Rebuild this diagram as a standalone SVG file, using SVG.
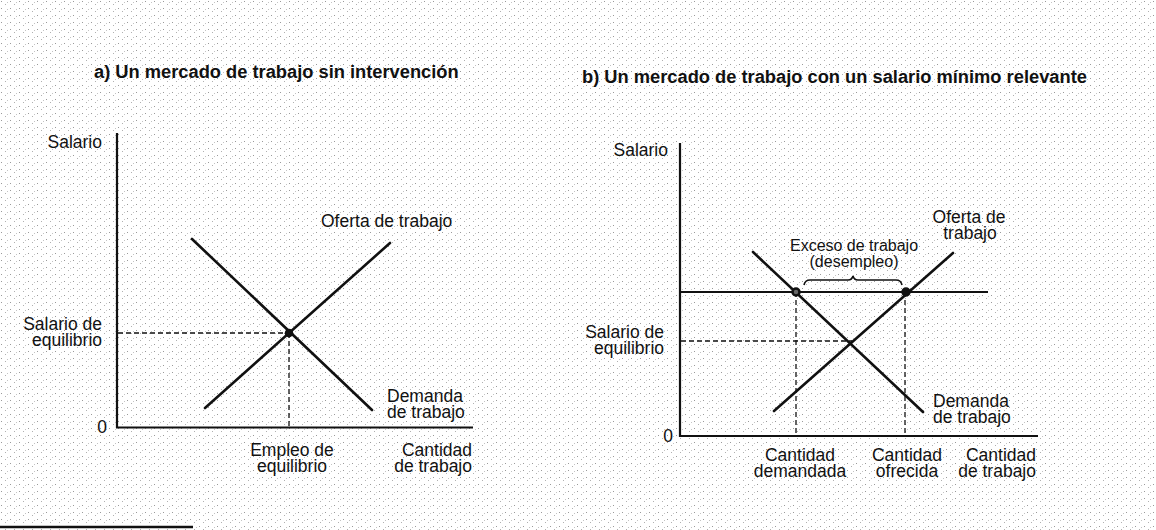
<svg xmlns="http://www.w3.org/2000/svg" width="1156" height="530" viewBox="0 0 1156 530">
  <defs>
    <pattern id="speckle" width="9" height="7" patternUnits="userSpaceOnUse">
      <rect x="1" y="1" width="1" height="1" fill="#9a9a9a"/>
      <rect x="5" y="4" width="1" height="1" fill="#b0b0b0"/>
      <rect x="7" y="2" width="1" height="1" fill="#c4c4c4"/>
    </pattern>
  </defs>
  <style>
    .title { font-family: "Liberation Sans", Arial, sans-serif; font-size: 18.3px; font-weight: bold; fill: #111; }
    .lbl { font-family: "Liberation Sans", Arial, sans-serif; font-size: 17.5px; fill: #111; }
    .small { font-family: "Liberation Sans", Arial, sans-serif; font-size: 16px; fill: #111; }
    .axis { stroke: #111; stroke-width: 2.2; fill: none; }
    .curve { stroke: #111; stroke-width: 2.6; fill: none; stroke-linecap: round; }
    .dash { stroke: #111; stroke-width: 1.3; fill: none; stroke-dasharray: 5 3; }
    .pt { fill: #111; stroke: #111; stroke-width: 1.5; }
    .ring { fill: #666; stroke: #111; stroke-width: 2.5; }
  </style>
  <rect width="1156" height="530" fill="#ffffff"/>
  <rect width="1156" height="530" fill="url(#speckle)"/>
  <line x1="0" y1="527" x2="193" y2="527" stroke="#111" stroke-width="2.5"/>

  <!-- Panel a -->
  <g id="panel-a">
    <text class="title" x="94" y="78">a) Un mercado de trabajo sin intervención</text>
    <g id="a-axes">
      <line class="axis" x1="117" y1="133" x2="117" y2="428"/>
      <line class="axis" x1="116" y1="427.5" x2="473" y2="427.5"/>
      <text class="lbl" x="102" y="148" text-anchor="end">Salario</text>
      <text class="lbl" x="102" y="433" text-anchor="middle">0</text>
      <text class="lbl" text-anchor="end"><tspan x="472" y="456">Cantidad</tspan><tspan x="472" y="472">de trabajo</tspan></text>
    </g>
    <g id="a-connectors">
      <line class="dash" x1="118" y1="333" x2="289" y2="333"/>
      <line class="dash" x1="289" y1="333" x2="289" y2="427"/>
      <line class="curve" x1="205" y1="408" x2="390" y2="243"/>
      <line class="curve" x1="192" y1="239" x2="372" y2="410"/>
    </g>
    <g id="a-supply-label">
      <text class="lbl" x="321" y="227">Oferta de trabajo</text>
    </g>
    <g id="a-demand-label">
      <text class="lbl"><tspan x="387" y="402">Demanda</tspan><tspan x="387" y="418">de trabajo</tspan></text>
    </g>
    <g id="a-eq-wage">
      <text class="lbl" text-anchor="end"><tspan x="102" y="330">Salario de</tspan><tspan x="102" y="346">equilibrio</tspan></text>
    </g>
    <g id="a-eq-employment">
      <text class="lbl" text-anchor="middle"><tspan x="292" y="456">Empleo de</tspan><tspan x="292" y="472">equilibrio</tspan></text>
    </g>
    <g id="a-equilibrium">
      <circle class="pt" cx="289" cy="333" r="3.5"/>
    </g>
  </g>

  <!-- Panel b -->
  <g id="panel-b">
    <text class="title" x="582" y="83">b) Un mercado de trabajo con un salario mínimo relevante</text>
    <g id="b-axes">
      <line class="axis" x1="680" y1="143" x2="680" y2="437"/>
      <line class="axis" x1="679" y1="436" x2="1038" y2="436"/>
      <text class="lbl" x="668" y="156" text-anchor="end">Salario</text>
      <text class="lbl" x="668" y="442" text-anchor="middle">0</text>
      <text class="lbl" text-anchor="end"><tspan x="1036" y="461">Cantidad</tspan><tspan x="1036" y="477">de trabajo</tspan></text>
    </g>
    <g id="b-connectors">
      <line class="dash" x1="681" y1="341" x2="852" y2="341"/>
      <line class="dash" x1="796" y1="292" x2="796" y2="436"/>
      <line class="dash" x1="905" y1="292" x2="905" y2="436"/>
      <line class="axis" x1="680" y1="292" x2="988" y2="292"/>
      <line class="curve" x1="774" y1="411" x2="953" y2="253"/>
      <line class="curve" x1="753" y1="252" x2="923" y2="412"/>
      <path d="M804 285 Q805 280 810 280 L848 280 Q852 280 853 276 Q854 280 858 280 L896 280 Q901 280 902 285" fill="none" stroke="#111" stroke-width="1.6"/>
    </g>
    <g id="b-supply-label">
      <text class="lbl" text-anchor="middle"><tspan x="969" y="223">Oferta de</tspan><tspan x="970" y="239">trabajo</tspan></text>
    </g>
    <g id="b-excess-label">
      <text class="small" text-anchor="middle"><tspan x="854" y="251">Exceso de trabajo</tspan><tspan x="854" y="267">(desempleo)</tspan></text>
    </g>
    <g id="b-demand-label">
      <text class="lbl"><tspan x="933" y="407">Demanda</tspan><tspan x="933" y="423">de trabajo</tspan></text>
    </g>
    <g id="b-eq-wage">
      <text class="lbl" text-anchor="end"><tspan x="664" y="338">Salario de</tspan><tspan x="664" y="354">equilibrio</tspan></text>
    </g>
    <g id="b-qd">
      <text class="lbl" text-anchor="middle"><tspan x="800" y="461">Cantidad</tspan><tspan x="800" y="477">demandada</tspan></text>
    </g>
    <g id="b-qs">
      <text class="lbl" text-anchor="middle"><tspan x="907" y="461">Cantidad</tspan><tspan x="907" y="477">ofrecida</tspan></text>
    </g>
    <g id="b-points">
      <circle class="ring" cx="796" cy="292" r="3.5"/>
      <circle class="pt" cx="906" cy="292" r="4"/>
    </g>
  </g>
</svg>
